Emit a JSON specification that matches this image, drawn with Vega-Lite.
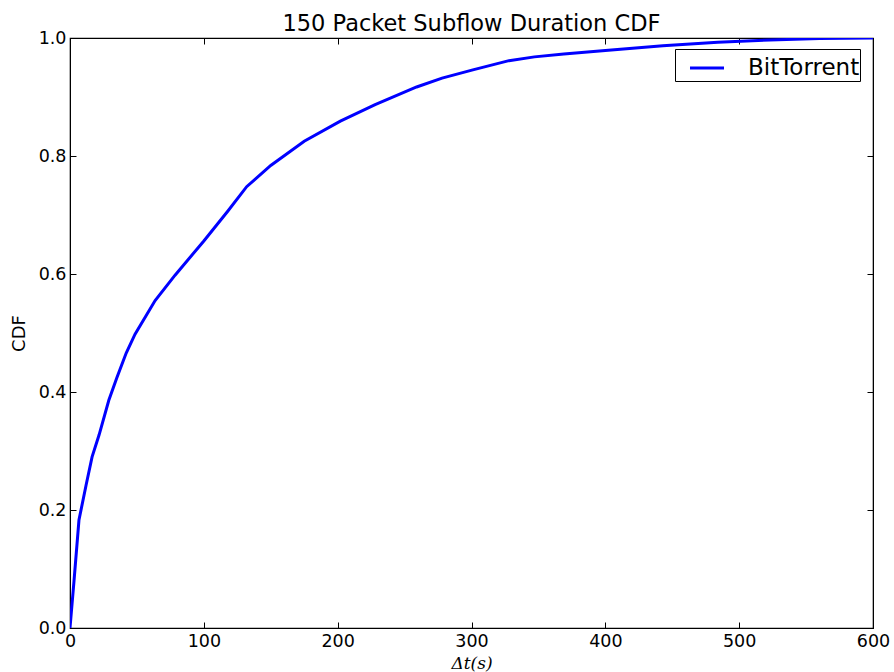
{
  "$schema": "https://vega.github.io/schema/vega-lite/v6.json",
  "width": 803,
  "height": 590,
  "autosize": "none",
  "padding": {"left": 70, "top": 38, "right": 21, "bottom": 44},
  "background": "white",
  "title": {"text": "150 Packet Subflow Duration CDF", "font": "DejaVu Sans", "fontSize": 22.5, "fontWeight": "normal", "color": "black", "offset": 6, "dy": 12},
  "config": {
    "view": {"stroke": "black", "strokeWidth": 1.2},
    "axis": {"labelFont": "DejaVu Sans", "labelFontSize": 17.5, "labelColor": "black", "labelFlush": false, "domainColor": "black", "tickColor": "black", "grid": false, "titleFont": "DejaVu Sans", "titleFontWeight": "normal", "titleColor": "black", "titleFontSize": 18}
  },
  "data": {"values": [
    {"t": 0, "cdf": 0, "s": "BitTorrent"},
    {"t": 3, "cdf": 0.08, "s": "BitTorrent"},
    {"t": 6.7, "cdf": 0.183, "s": "BitTorrent"},
    {"t": 12, "cdf": 0.242, "s": "BitTorrent"},
    {"t": 16.5, "cdf": 0.29, "s": "BitTorrent"},
    {"t": 21.7, "cdf": 0.327, "s": "BitTorrent"},
    {"t": 29, "cdf": 0.386, "s": "BitTorrent"},
    {"t": 35, "cdf": 0.424, "s": "BitTorrent"},
    {"t": 42, "cdf": 0.466, "s": "BitTorrent"},
    {"t": 48.6, "cdf": 0.498, "s": "BitTorrent"},
    {"t": 63.6, "cdf": 0.555, "s": "BitTorrent"},
    {"t": 78.5, "cdf": 0.598, "s": "BitTorrent"},
    {"t": 100, "cdf": 0.656, "s": "BitTorrent"},
    {"t": 117.7, "cdf": 0.706, "s": "BitTorrent"},
    {"t": 132, "cdf": 0.748, "s": "BitTorrent"},
    {"t": 150, "cdf": 0.784, "s": "BitTorrent"},
    {"t": 175, "cdf": 0.825, "s": "BitTorrent"},
    {"t": 202, "cdf": 0.859, "s": "BitTorrent"},
    {"t": 228, "cdf": 0.887, "s": "BitTorrent"},
    {"t": 259, "cdf": 0.917, "s": "BitTorrent"},
    {"t": 278, "cdf": 0.932, "s": "BitTorrent"},
    {"t": 301, "cdf": 0.946, "s": "BitTorrent"},
    {"t": 328, "cdf": 0.9616, "s": "BitTorrent"},
    {"t": 347, "cdf": 0.968, "s": "BitTorrent"},
    {"t": 369, "cdf": 0.973, "s": "BitTorrent"},
    {"t": 400, "cdf": 0.979, "s": "BitTorrent"},
    {"t": 443, "cdf": 0.987, "s": "BitTorrent"},
    {"t": 484, "cdf": 0.993, "s": "BitTorrent"},
    {"t": 523, "cdf": 0.9966, "s": "BitTorrent"},
    {"t": 560, "cdf": 0.999, "s": "BitTorrent"},
    {"t": 600, "cdf": 1.0, "s": "BitTorrent"}
  ]},
  "layer": [
    {
      "mark": {"type": "line", "strokeWidth": 3, "clip": true},
      "encoding": {
        "x": {"field": "t", "type": "quantitative", "scale": {"domain": [0, 600], "nice": false, "zero": false},
          "axis": {"orient": "bottom", "values": [0,100,200,300,400,500,600], "format": "d", "tickSize": -6, "labelPadding": 10, "title": "Δt(s)", "titleFont": "DejaVu Serif", "titleFontStyle": "italic", "titleFontSize": 17, "titlePadding": 6}},
        "y": {"field": "cdf", "type": "quantitative", "scale": {"domain": [0, 1], "nice": false},
          "axis": {"orient": "left", "values": [0,0.2,0.4,0.6,0.8,1.0], "format": ".1f", "tickSize": -6, "labelPadding": 10, "title": "CDF", "titlePadding": 10}},
        "color": {"field": "s", "type": "nominal", "scale": {"range": ["#0000ff"]},
          "legend": {"title": null, "orient": "none", "legendX": 605, "legendY": 11, "labelFont": "DejaVu Sans", "labelFontSize": 23, "labelColor": "black", "symbolType": "M-0.235,0H1.765", "symbolStrokeWidth": 3, "symbolSize": 1156, "symbolFillColor": "transparent", "strokeColor": "black", "fillColor": "white", "padding": 0.5, "labelOffset": 35.5, "cornerRadius": 0}}
      }
    },
    {
      "mark": {"type": "line", "opacity": 0},
      "encoding": {
        "x": {"field": "t", "type": "quantitative", "scale": {"domain": [0, 600], "nice": false, "zero": false}, "axis": {"orient": "top", "values": [0,100,200,300,400,500,600], "labels": false, "tickSize": -6, "title": null}},
        "y": {"field": "cdf", "type": "quantitative", "scale": {"domain": [0, 1], "nice": false}, "axis": {"orient": "right", "values": [0,0.2,0.4,0.6,0.8,1.0], "labels": false, "tickSize": -6, "title": null}}
      }
    }
  ],
  "resolve": {"axis": {"x": "independent", "y": "independent"}}
}
